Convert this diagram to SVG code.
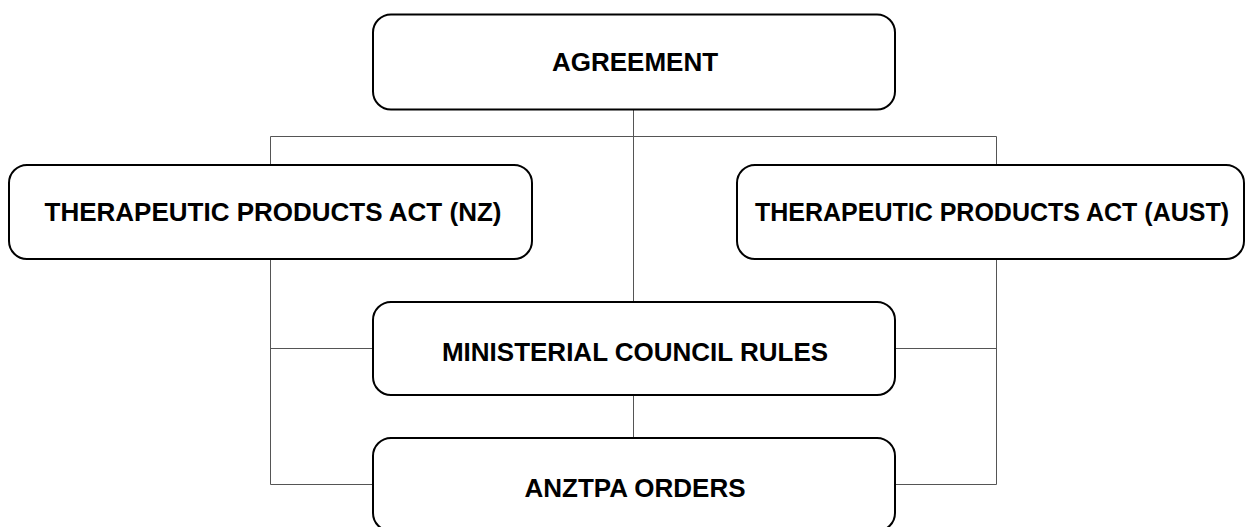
<svg xmlns="http://www.w3.org/2000/svg" width="1245" height="527" viewBox="0 0 1245 527">
<style>
.box{fill:#fff;stroke:#000;stroke-width:2}
.lbl{font-family:"Liberation Sans",Arial,sans-serif;font-weight:bold;font-size:26px;fill:#000;text-anchor:middle}
.con{fill:none;stroke:#555;stroke-width:1}
</style>
<rect width="1245" height="527" fill="#fff"/>
<g id="connectors">
<line class="con" x1="270.5" y1="136.5" x2="996.5" y2="136.5"/>
<line class="con" x1="633.5" y1="109.5" x2="633.5" y2="302"/>
<line class="con" x1="633.5" y1="395" x2="633.5" y2="438"/>
<line class="con" x1="270.5" y1="136.5" x2="270.5" y2="165"/>
<line class="con" x1="270.5" y1="259" x2="270.5" y2="484.5"/>
<line class="con" x1="996.5" y1="136.5" x2="996.5" y2="165"/>
<line class="con" x1="996.5" y1="259" x2="996.5" y2="484.5"/>
<line class="con" x1="270.5" y1="348.5" x2="373" y2="348.5"/>
<line class="con" x1="895" y1="348.5" x2="996.5" y2="348.5"/>
<line class="con" x1="270.5" y1="484.5" x2="373" y2="484.5"/>
<line class="con" x1="895" y1="484.5" x2="996.5" y2="484.5"/>
</g>
<g id="agreement">
<rect class="box" x="373" y="14.5" width="522" height="95" rx="18"/>
<text class="lbl" x="635" y="71">AGREEMENT</text>
</g>
<g id="tpa-nz">
<rect class="box" x="9" y="165" width="523" height="94" rx="18"/>
<text class="lbl" x="273" y="221">THERAPEUTIC PRODUCTS ACT (NZ)</text>
</g>
<g id="tpa-aust">
<rect class="box" x="737" y="165" width="507" height="94" rx="18"/>
<text class="lbl" x="992" y="221" style="font-size:25px">THERAPEUTIC PRODUCTS ACT (AUST)</text>
</g>
<g id="ministerial">
<rect class="box" x="373" y="302" width="522" height="93" rx="18"/>
<text class="lbl" x="635" y="361">MINISTERIAL COUNCIL RULES</text>
</g>
<g id="anztpa">
<rect class="box" x="373" y="438" width="522" height="93" rx="18"/>
<text class="lbl" x="635" y="497">ANZTPA ORDERS</text>
</g>
</svg>
